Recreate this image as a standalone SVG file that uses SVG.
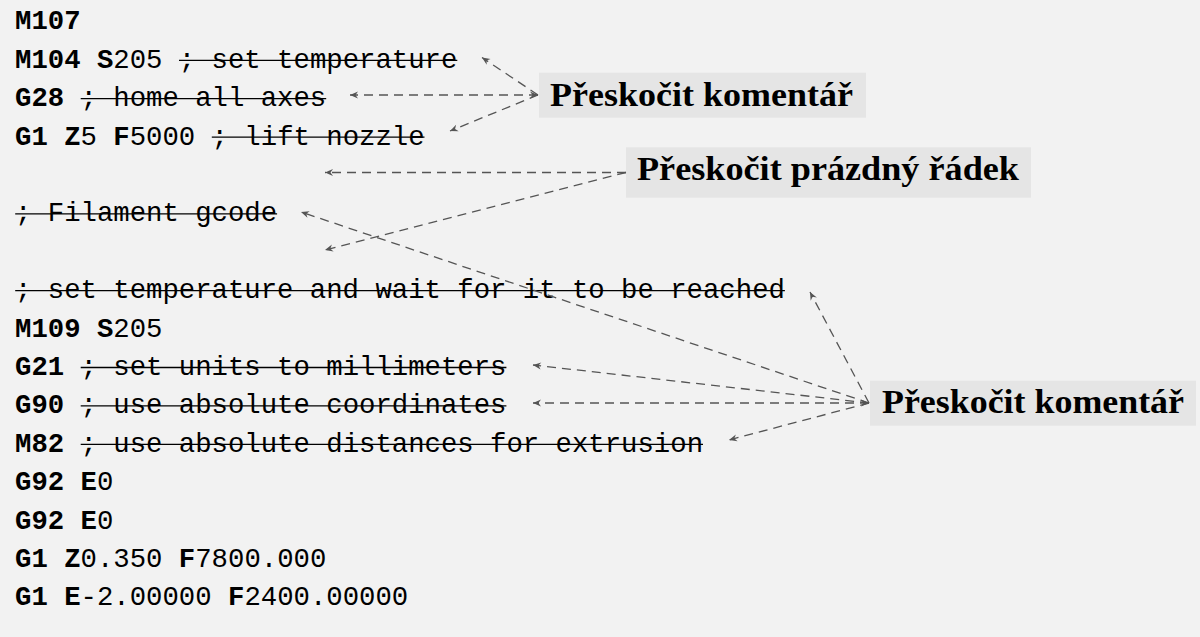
<svg xmlns="http://www.w3.org/2000/svg" width="1200" height="637" viewBox="0 0 1200 637">
<defs>
<style>
.code{font-family:"Liberation Mono","DejaVu Sans Mono",monospace;font-size:27.3px;fill:#000}
.b{font-weight:bold}
.strike line{stroke:#000;stroke-width:1.3}
.lbl{font-family:"Liberation Serif","DejaVu Serif",serif;font-size:33px;font-weight:bold;fill:#000}
.box{fill:#e5e5e5}
.arr{stroke:#555;stroke-width:1.3;stroke-dasharray:9 6;fill:none;marker-end:url(#ah)}
.both{marker-start:url(#ah)}
</style>
<marker id="ah" markerUnits="userSpaceOnUse" viewBox="-9 -5 10 10" refX="0" refY="0" markerWidth="10" markerHeight="10" orient="auto-start-reverse">
<path d="M0,0 L-8,-3.5 L-5.5,0 L-8,3.5 Z" fill="#555"/>
</marker>
</defs>
<rect width="1200" height="637" fill="#f2f2f2"/>
<g id="code">
<text class="code" x="15" y="29.3"><tspan class="b">M107</tspan></text>
<text class="code" x="15" y="67.7"><tspan class="b">M104</tspan> <tspan class="b">S</tspan>205 ; set temperature</text>
<text class="code" x="15" y="106.1"><tspan class="b">G28</tspan> ; home all axes</text>
<text class="code" x="15" y="144.5"><tspan class="b">G1</tspan> <tspan class="b">Z</tspan>5 <tspan class="b">F</tspan>5000 ; lift nozzle</text>
<text class="code" x="15" y="221.3">; Filament gcode</text>
<text class="code" x="15" y="298.1">; set temperature and wait for it to be reached</text>
<text class="code" x="15" y="336.5"><tspan class="b">M109</tspan> <tspan class="b">S</tspan>205</text>
<text class="code" x="15" y="374.9"><tspan class="b">G21</tspan> ; set units to millimeters</text>
<text class="code" x="15" y="413.3"><tspan class="b">G90</tspan> ; use absolute coordinates</text>
<text class="code" x="15" y="451.7"><tspan class="b">M82</tspan> ; use absolute distances for extrusion</text>
<text class="code" x="15" y="490.1"><tspan class="b">G92</tspan> <tspan class="b">E</tspan>0</text>
<text class="code" x="15" y="528.5"><tspan class="b">G92</tspan> <tspan class="b">E</tspan>0</text>
<text class="code" x="15" y="566.9"><tspan class="b">G1</tspan> <tspan class="b">Z</tspan>0.350 <tspan class="b">F</tspan>7800.000</text>
<text class="code" x="15" y="605.3"><tspan class="b">G1</tspan> <tspan class="b">E</tspan>-2.00000 <tspan class="b">F</tspan>2400.00000</text>
<g class="strike">
<line x1="179" y1="60.3" x2="457.3" y2="60.3"/>
<line x1="80.7" y1="98.7" x2="326.2" y2="98.7"/>
<line x1="211.8" y1="137.1" x2="424.5" y2="137.1"/>
<line x1="15.2" y1="213.9" x2="277.1" y2="213.9"/>
<line x1="15.2" y1="290.7" x2="784.9" y2="290.7"/>
<line x1="80.7" y1="367.5" x2="506.4" y2="367.5"/>
<line x1="80.7" y1="405.9" x2="506.4" y2="405.9"/>
<line x1="80.7" y1="444.3" x2="703" y2="444.3"/>
</g>
</g>
<g id="label1">
<rect class="box" x="539" y="72.7" width="327" height="45"/>
<text class="lbl" x="550" y="105.5" textLength="303" lengthAdjust="spacingAndGlyphs">Přeskočit komentář</text>
</g>
<g id="label2">
<rect class="box" x="626" y="147.3" width="405" height="50.4"/>
<text class="lbl" x="637" y="179.8" textLength="382" lengthAdjust="spacingAndGlyphs">Přeskočit prázdný řádek</text>
</g>
<g id="label3">
<rect class="box" x="870" y="380.7" width="326" height="45"/>
<text class="lbl" x="882" y="413.2" textLength="302" lengthAdjust="spacingAndGlyphs">Přeskočit komentář</text>
</g>
<g id="connectors">
<line class="arr" x1="538" y1="95" x2="482" y2="57.5"/>
<line class="arr both" x1="538" y1="95" x2="350" y2="95"/>
<line class="arr" x1="538" y1="95" x2="450" y2="131"/>
<line class="arr" x1="626" y1="172.5" x2="325" y2="172.5"/>
<line class="arr" x1="626" y1="172.5" x2="325" y2="250"/>
<line class="arr" x1="869" y1="403" x2="301" y2="212"/>
<line class="arr" x1="869" y1="403" x2="810" y2="292"/>
<line class="arr" x1="869" y1="403" x2="533" y2="365"/>
<line class="arr both" x1="869" y1="403" x2="533" y2="403"/>
<line class="arr" x1="869" y1="403" x2="729" y2="440"/>
</g>
</svg>
